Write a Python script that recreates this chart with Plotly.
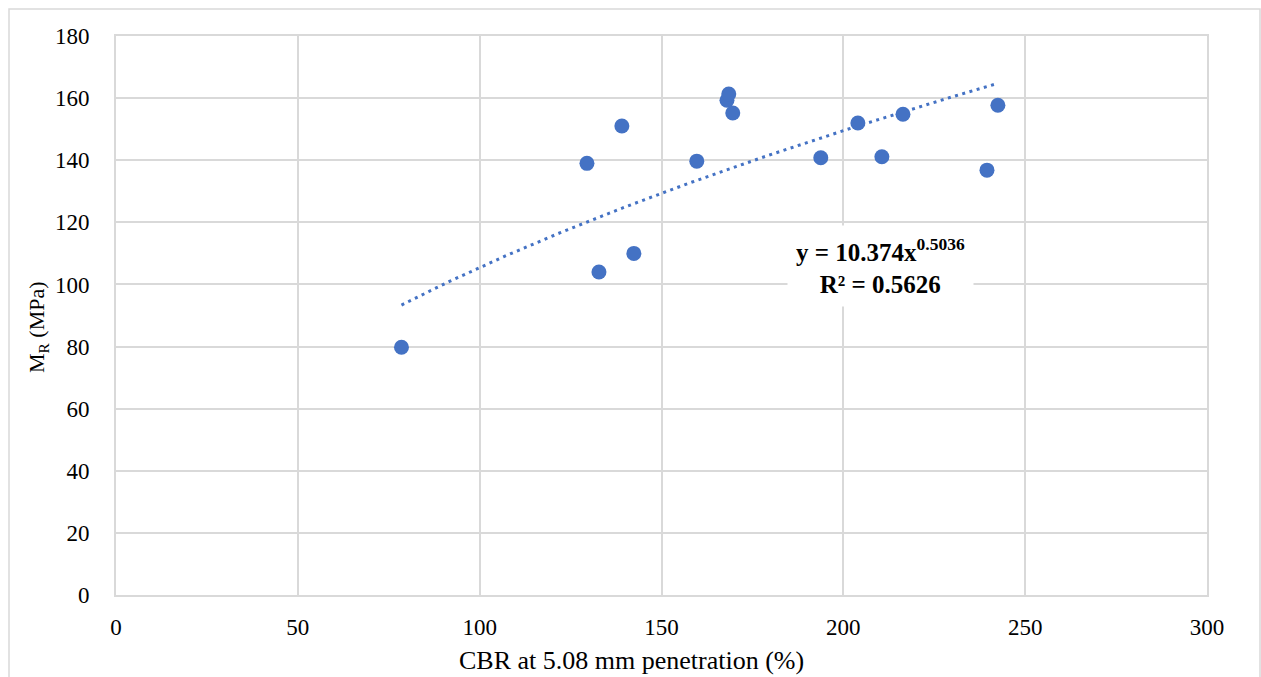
import numpy as np
import plotly.graph_objects as go

# Data
cbr = [78.5, 129.5, 132.8, 139.1, 142.4, 159.7, 168.0, 168.5, 169.6, 193.8, 204.0, 210.6, 216.4, 239.5, 242.5]
mr = [79.8, 139.0, 104.0, 151.0, 110.0, 139.7, 159.3, 161.3, 155.2, 140.8, 152.0, 141.1, 154.8, 136.8, 157.7]

# Power trendline coefficients (shown on chart)
coef_a = 10.374
coef_b = 0.5036
r2 = 0.5626

x_ticks = [0, 50, 100, 150, 200, 250, 300]
y_ticks = [0, 20, 40, 60, 80, 100, 120, 140, 160, 180]
x_title = "CBR at 5.08 mm penetration (%)"
y_title = "M<sub>R</sub> (MPa)"

xt = np.linspace(min(cbr), max(cbr), 200)
yt = coef_a * xt ** coef_b

blue = "#4472C4"
grid = "#d9d9d9"
font_family = "Liberation Serif, Times New Roman, serif"

PL, PR, PT, PB = 116, 1207, 36, 595
W, H = 1261, 677
pw, ph = PR - PL, PB - PT


def px(x):
    return (x - PL) / pw


def py(y):
    return (PB - y) / ph


fig = go.Figure()
fig.add_trace(go.Scatter(x=xt, y=yt, mode="lines",
                         line=dict(color=blue, width=3, dash="3px,4.5px"),
                         hoverinfo="skip", showlegend=False))
fig.add_trace(go.Scatter(x=cbr, y=mr, mode="markers",
                         marker=dict(color=blue, size=15),
                         showlegend=False))

fig.add_annotation(xref="paper", yref="paper", x=px(880), y=py(266),
                   xanchor="center", yanchor="middle",
                   text=f"<b>y = {coef_a}x<sup>{coef_b}</sup><br>R² = {r2}</b>",
                   showarrow=False, bgcolor="white", borderpad=8,
                   font=dict(family=font_family, size=25, color="black"))

fig.add_annotation(xref="paper", yref="paper", x=px(631), y=py(660),
                   xanchor="center", yanchor="middle", showarrow=False,
                   text=x_title, font=dict(family=font_family, size=26, color="black"))
fig.add_annotation(xref="paper", yref="paper", x=px(38), y=py(327),
                   xanchor="center", yanchor="middle", showarrow=False, textangle=-90,
                   text=y_title, font=dict(family=font_family, size=22, color="black"))

fig.add_shape(type="rect", xref="paper", yref="paper",
              x0=px(9), x1=px(1260), y0=py(700), y1=py(9),
              line=dict(color=grid, width=1.5), layer="below")

fig.update_layout(
    width=W, height=H,
    margin=dict(l=PL, r=W - PR, t=PT, b=H - PB, autoexpand=False),
    paper_bgcolor="white", plot_bgcolor="white",
    font=dict(family=font_family, size=23, color="black"),
    xaxis=dict(range=[0, 300], tickvals=x_ticks, showgrid=True, gridcolor=grid, gridwidth=2,
               zeroline=False, showline=True, linecolor=grid, linewidth=2, mirror=True,
               ticks="", ticklen=0, ticklabelstandoff=10, automargin=False),
    yaxis=dict(range=[0, 180], tickvals=y_ticks, showgrid=True, gridcolor=grid, gridwidth=2,
               zeroline=False, showline=True, linecolor=grid, linewidth=2, mirror=True,
               ticks="", ticklen=0, ticklabelstandoff=20, automargin=False),
)

fig.write_html("out.html")
